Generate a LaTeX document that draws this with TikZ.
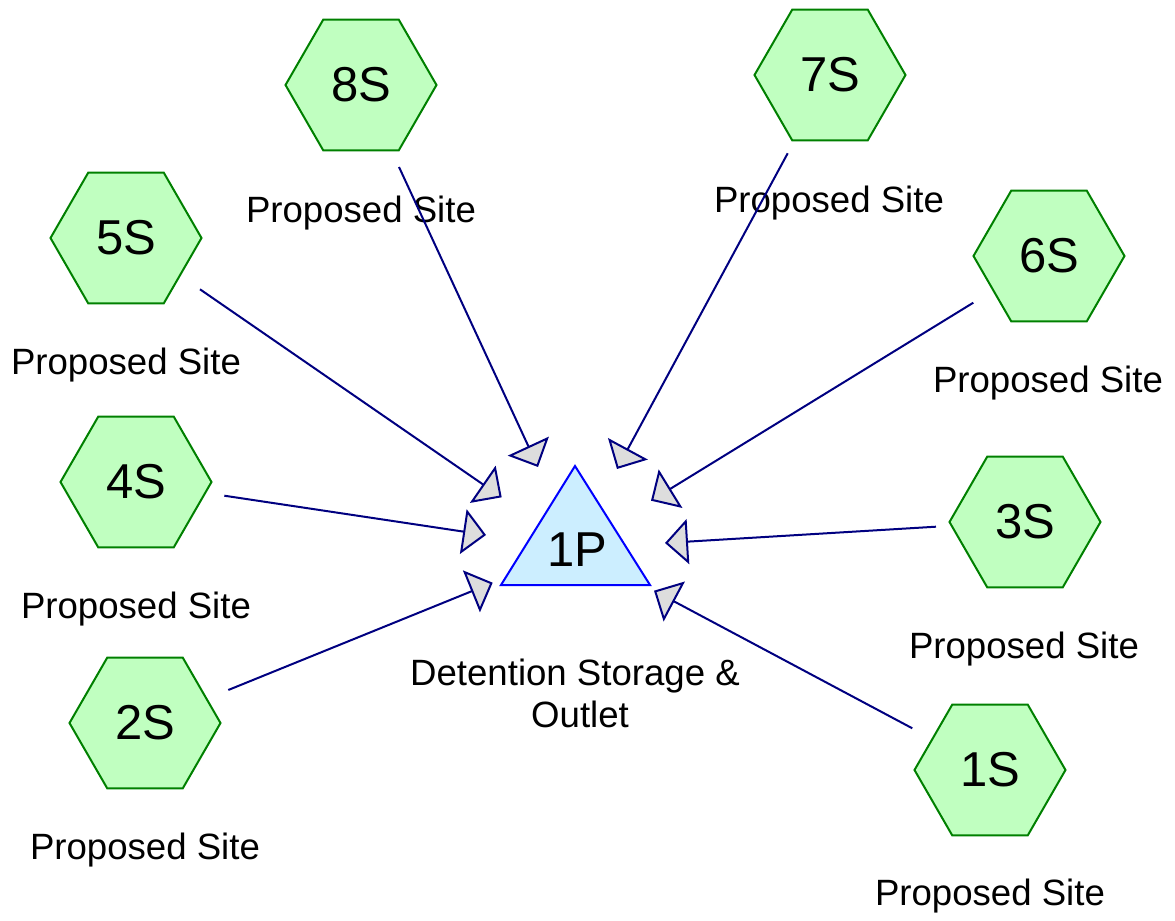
\documentclass[tikz,border=0pt]{standalone}
\usepackage{fontspec}
\setmainfont{Liberation Sans}
\usetikzlibrary{shapes.geometric,arrows.meta}
\definecolor{hexfill}{HTML}{C0FFC0}
\definecolor{hexdraw}{HTML}{008000}
\definecolor{trifill}{HTML}{CCEEFF}
\definecolor{tridraw}{HTML}{0000FF}
\definecolor{linecol}{HTML}{000080}
\definecolor{arrowgray}{HTML}{DDDDDD}
\tikzset{
  site/.style={regular polygon, regular polygon sides=6, minimum size=75.5pt, inner sep=0pt,
    draw=hexdraw, fill=hexfill, line width=1pt, font=\fontsize{24.5}{28}\selectfont},
  sitelabel/.style={anchor=base, inner sep=0pt, font=\fontsize{18.3}{21}\selectfont},
  link/.style={draw=linecol, line width=1pt,
    -{Triangle[length=11.5pt, width=22.5pt, fill=arrowgray, line width=1pt]}},
}
\begin{document}
\begin{tikzpicture}[x=0.5pt,y=-0.5pt]
\useasboundingbox (0,0) rectangle (1175,921);
% central storage
\coordinate (pa) at (575,466);
\coordinate (pb) at (650,585);
\coordinate (pc) at (501,585);
\draw[draw=tridraw, fill=trifill, line width=1pt, line join=miter] (pa) -- (pb) -- (pc) -- cycle;
\node[inner sep=0pt, font=\fontsize{24.5}{28}\selectfont] (p1) at (577,550) {1P};
\node[sitelabel, align=center] (p1lab) at (580,727) {Detention Storage \&\kern5pt\\Outlet};
% sites
\node[site] (h8) at (361,85) {8S};
\node[site] (h7) at (830,75) {7S};
\node[site] (h5) at (126,238) {5S};
\node[site] (h6) at (1049,256) {6S};
\node[site] (h4) at (136,482) {4S};
\node[site] (h3) at (1025,522) {3S};
\node[site] (h2) at (145,723) {2S};
\node[site] (h1) at (990,770) {1S};
% labels
\node[sitelabel] (l8) at (361,222) {Proposed Site};
\node[sitelabel] (l7) at (829,212) {Proposed Site};
\node[sitelabel] (l5) at (126,374) {Proposed Site};
\node[sitelabel] (l6) at (1048,392) {Proposed Site};
\node[sitelabel] (l4) at (136,618) {Proposed Site};
\node[sitelabel] (l3) at (1024,658) {Proposed Site};
\node[sitelabel] (l2) at (145,859) {Proposed Site};
\node[sitelabel] (l1) at (990,905) {Proposed Site};
% connector ends
\coordinate (s8) at (399,167);   \coordinate (t8) at (538,467);
\coordinate (s7) at (787.7,153.3); \coordinate (t7) at (617,469);
\coordinate (s5) at (200,289.3); \coordinate (t5) at (501.7,497.3);
\coordinate (s6) at (973.3,302.7); \coordinate (t6) at (651,500.7);
\coordinate (s4) at (224.3,495.7); \coordinate (t4) at (486,535);
\coordinate (s3) at (936,526.7); \coordinate (t3) at (665,543);
\coordinate (s2) at (228.3,690); \coordinate (t2) at (492.7,582.7);
\coordinate (s1) at (912.3,728.3); \coordinate (t1) at (654,590.7);
\foreach \i in {1,...,8} { \draw[link] (s\i) -- (t\i); }
\end{tikzpicture}
\end{document}
